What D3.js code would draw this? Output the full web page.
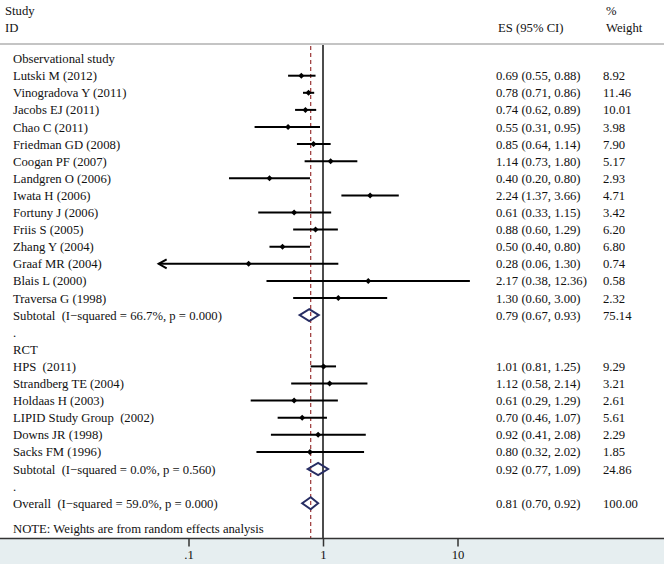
<!DOCTYPE html>
<html>
<head>
<meta charset="utf-8">
<script src="https://cdn.jsdelivr.net/npm/d3@7/dist/d3.min.js"></script>
<style>
  html, body { margin: 0; padding: 0; background: #fff; }
  svg text { font-family: "Liberation Serif", "Times New Roman", serif; font-size: 12.7px; fill: #111; white-space: pre; }
</style>
</head>
<body>
<svg id="chart" width="664" height="564"></svg>
<script>
// ---------- data ----------
const obsStudies = ["Lutski M (2012)", "Vinogradova Y (2011)", "Jacobs EJ (2011)", "Chao C (2011)",
  "Friedman GD (2008)", "Coogan PF (2007)", "Landgren O (2006)", "Iwata H (2006)", "Fortuny J (2006)",
  "Friis S (2005)", "Zhang Y (2004)", "Graaf MR (2004)", "Blais L (2000)", "Traversa G (1998)"];
const obsES = [0.69, 0.78, 0.74, 0.55, 0.85, 1.14, 0.40, 2.24, 0.61, 0.88, 0.50, 0.28, 2.17, 1.30];
const obsLo = [0.55, 0.71, 0.62, 0.31, 0.64, 0.73, 0.20, 1.37, 0.33, 0.60, 0.40, 0.06, 0.38, 0.60];
const obsHi = [0.88, 0.86, 0.89, 0.95, 1.14, 1.80, 0.80, 3.66, 1.15, 1.29, 0.80, 1.30, 12.36, 3.00];
const obsW  = [8.92, 11.46, 10.01, 3.98, 7.90, 5.17, 2.93, 4.71, 3.42, 6.20, 6.80, 0.74, 0.58, 2.32];

const rctStudies = ["HPS  (2011)", "Strandberg TE (2004)", "Holdaas H (2003)", "LIPID Study Group  (2002)",
  "Downs JR (1998)", "Sacks FM (1996)"];
const rctES = [1.01, 1.12, 0.61, 0.70, 0.92, 0.80];
const rctLo = [0.81, 0.58, 0.29, 0.46, 0.41, 0.32];
const rctHi = [1.25, 2.14, 1.29, 1.07, 2.08, 2.02];
const rctW  = [9.29, 3.21, 2.61, 5.61, 2.29, 1.85];

const groupNames = ["Observational study", "RCT"];
const pooledLabels = ["Subtotal  (I\u2212squared = 66.7%, p = 0.000)",
                      "Subtotal  (I\u2212squared = 0.0%, p = 0.560)",
                      "Overall  (I\u2212squared = 59.0%, p = 0.000)"];
const pooledES = [0.79, 0.92, 0.81];
const pooledLo = [0.67, 0.77, 0.70];
const pooledHi = [0.93, 1.09, 0.92];
const pooledW  = [75.14, 24.86, 100.00];

const tickValues = [0.1, 1, 10];
const tickLabels = [".1", "1", "10"];
const noteText = "NOTE: Weights are from random effects analysis";

// ---------- build rows ----------
const rows = [];
function addGroup(name, studies, es, lo, hi, w, pi) {
  rows.push({type: "label", label: name});
  studies.forEach((s, i) => rows.push({type: "study", label: s, es: es[i], lo: lo[i], hi: hi[i], w: w[i]}));
  rows.push({type: "pooled", label: pooledLabels[pi], es: pooledES[pi], lo: pooledLo[pi], hi: pooledHi[pi], w: pooledW[pi]});
  rows.push({type: "label", label: "."});
}
addGroup(groupNames[0], obsStudies, obsES, obsLo, obsHi, obsW, 0);
addGroup(groupNames[1], rctStudies, rctES, rctLo, rctHi, rctW, 1);
rows.push({type: "pooled", label: pooledLabels[2], es: pooledES[2], lo: pooledLo[2], hi: pooledHi[2], w: pooledW[2], overall: true});

// ---------- layout ----------
const svg = d3.select("#chart");
const W = 664, H = 564;
const axisY = 538.5;
const topLineY = 44;

const x = d3.scaleLog().domain([0.1, 10]).range([188.5, 457.5]);
const y = d3.scaleLinear().domain([0, rows.length - 1]).range([58.6, 58.6 + 17.1 * (rows.length - 1)]);
const f2 = d3.format(".2f");
const labelX = 13, esX = 496, wX = 603;

// bottom band
svg.append("rect").attr("x", 0).attr("y", axisY).attr("width", W).attr("height", H - axisY).attr("fill", "#e6eef0");

// header
svg.append("text").attr("x", 5).attr("y", 15).text("Study");
svg.append("text").attr("x", 5).attr("y", 32).text("ID");
svg.append("text").attr("x", esX + 2).attr("y", 32).text("ES (95% CI)");
svg.append("text").attr("x", wX + 3).attr("y", 15).text("%");
svg.append("text").attr("x", wX + 3).attr("y", 32).text("Weight");
svg.append("line").attr("x1", 0).attr("x2", W).attr("y1", topLineY).attr("y2", topLineY)
  .attr("stroke", "#c4c4c4").attr("stroke-width", 2);

// reference lines
const overallES = pooledES[2];
svg.append("line").attr("x1", x(1)).attr("x2", x(1)).attr("y1", topLineY + 1).attr("y2", axisY)
  .attr("stroke", "#111").attr("stroke-width", 1.5);
svg.append("line").attr("x1", x(overallES)).attr("x2", x(overallES)).attr("y1", topLineY + 2).attr("y2", axisY)
  .attr("stroke", "#9b3535").attr("stroke-width", 1.2).attr("stroke-dasharray", "4,3");

// row texts
const rowG = svg.append("g");
rows.forEach((r, i) => {
  const cy = y(i);
  rowG.append("text").attr("x", labelX).attr("y", cy + 4.5).text(r.label);
  if (r.type !== "label") {
    rowG.append("text").attr("x", esX).attr("y", cy + 4.5).text(`${f2(r.es)} (${f2(r.lo)}, ${f2(r.hi)})`);
    rowG.append("text").attr("x", wX).attr("y", cy + 4.5).text(f2(r.w));
  }
});

// study CIs and markers
const minTick = d3.min(tickValues);
rows.forEach((r, i) => {
  const cy = y(i);
  if (r.type === "study") {
    rowG.append("line").attr("x1", x(r.lo)).attr("x2", x(r.hi)).attr("y1", cy).attr("y2", cy)
      .attr("stroke", "#000").attr("stroke-width", 2);
    if (r.lo < minTick) {
      const ax = x(r.lo);
      rowG.append("path").attr("d", `M${ax + 8},${cy - 4.5}L${ax},${cy}L${ax + 8},${cy + 4.5}`)
        .attr("fill", "none").attr("stroke", "#000").attr("stroke-width", 2);
    }
    rowG.append("path").attr("d", d3.symbol(d3.symbolSquare, 18)())
      .attr("transform", `translate(${x(r.es)},${cy}) rotate(45)`).attr("fill", "#000");
  } else if (r.type === "pooled") {
    const hh = 6;
    rowG.append("path")
      .attr("d", `M${x(r.lo)},${cy}L${x(r.es)},${cy - hh}L${x(r.hi)},${cy}L${x(r.es)},${cy + hh}Z`)
      .attr("fill", "none").attr("stroke", "#272d63").attr("stroke-width", 2);
  }
});

// note
svg.append("text").attr("x", labelX).attr("y", 528 + 4.5).text(noteText);

// axis
svg.append("line").attr("x1", 0).attr("x2", W).attr("y1", axisY).attr("y2", axisY)
  .attr("stroke", "#333").attr("stroke-width", 1.5);
const axis = d3.axisBottom(x).tickValues(tickValues).tickSize(8).tickPadding(3)
  .tickFormat((d, i) => tickLabels[i]);
const ag = svg.append("g").attr("transform", `translate(0,${axisY})`).call(axis);
ag.select(".domain").remove();
ag.selectAll(".tick line").attr("stroke", "#333").attr("stroke-width", 1.5);
ag.selectAll(".tick text").attr("font-family", "Liberation Serif, serif").attr("font-size", 12.7).attr("fill", "#111");
</script>
</body>
</html>
